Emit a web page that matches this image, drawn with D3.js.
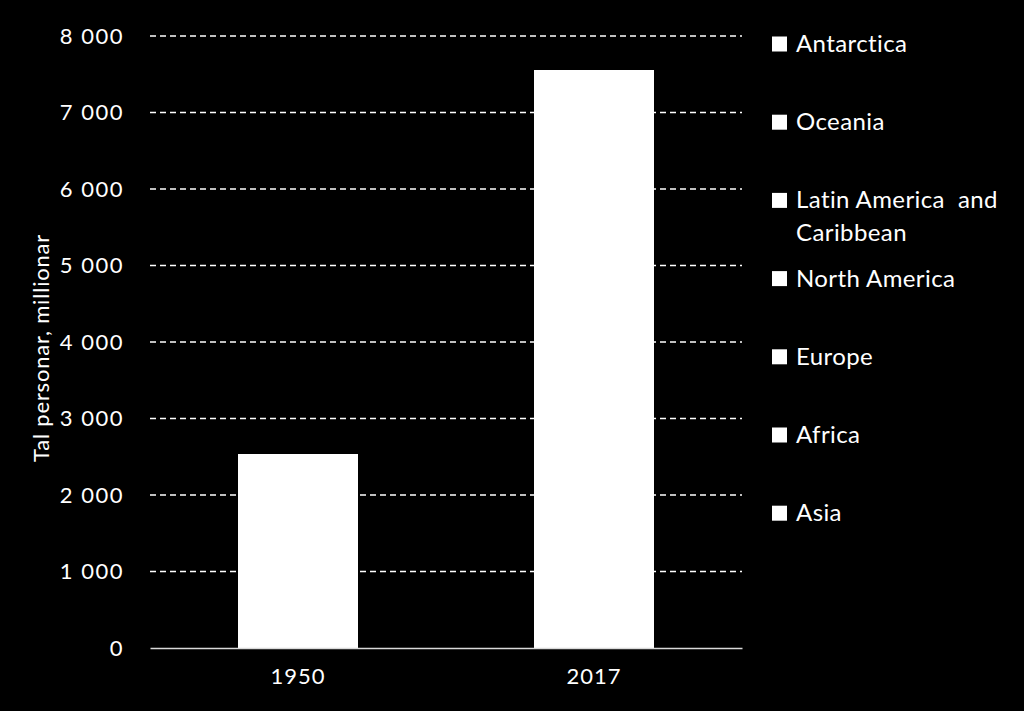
<!DOCTYPE html>
<html>
<head>
<meta charset="utf-8">
<script src="https://cdn.jsdelivr.net/npm/d3@7"></script>
<style>
  html, body { margin: 0; padding: 0; background: #000; }
  svg { display: block; }
  text { font-family: Lato, "Open Sans", sans-serif; fill: #fff; white-space: pre; }
</style>
</head>
<body>
<svg id="chart" width="1024" height="711"></svg>
<script>
const years = ["1950", "2017"];
const regions = ["Asia", "Africa", "Europe", "North America", "Latin America  and Caribbean", "Oceania", "Antarctica"];
const asia = [1404, 4504];
const africa = [228, 1256];
const europe = [549, 742];
const northAmerica = [172, 361];
const latinAmerica = [169, 646];
const oceania = [13, 41];
const antarctica = [0, 0];
const yTicks = [0, 1000, 2000, 3000, 4000, 5000, 6000, 7000, 8000];

(function () {
const seriesValues = [asia, africa, europe, northAmerica, latinAmerica, oceania, antarctica];
const table = years.map((yr, i) => {
  const row = { year: yr };
  regions.forEach((r, k) => row[r] = seriesValues[k][i]);
  return row;
});

const svg = d3.select("#chart");
const mLeft = 150, mRight = 742, mTop = 36, mBottom = 648;

const x = d3.scaleBand().domain(years).range([mLeft, mRight]).paddingInner(0.6).paddingOuter(0.3);
const y = d3.scaleLinear().domain([0, 8000]).range([mBottom, mTop]);

const fmt = d => d3.format(",")(d).replace(/,/g, " ");

// gridlines
svg.append("g").selectAll("line").data(yTicks.filter(d => d > 0)).join("line")
  .attr("x1", mLeft).attr("x2", mRight)
  .attr("y1", d => y(d)).attr("y2", d => y(d))
  .attr("stroke", "#fff").attr("stroke-width", 1.3)
  .attr("stroke-dasharray", "6,4");

// y axis
const yAxis = svg.append("g").attr("transform", `translate(${mLeft},0)`)
  .call(d3.axisLeft(y).tickValues(yTicks).tickFormat(fmt).tickSize(0).tickPadding(26));
yAxis.select(".domain").remove();
yAxis.selectAll("text").style("font-size", "22px").style("letter-spacing", "1.5px").attr("fill", "#fff");

// bars
const stack = d3.stack().keys(regions);
const layers = stack(table);
svg.append("g").selectAll("g").data(layers).join("g")
  .attr("fill", "#fff").attr("stroke", "#fff").attr("stroke-width", 1)
  .selectAll("rect").data(d => d).join("rect")
  .attr("shape-rendering", "crispEdges")
  .attr("x", d => x(d.data.year))
  .attr("width", x.bandwidth())
  .attr("y", d => y(d[1]))
  .attr("height", d => y(d[0]) - y(d[1]));

// x axis
const xAxis = svg.append("g").attr("transform", `translate(0,${mBottom})`)
  .call(d3.axisBottom(x).tickSize(0).tickPadding(20));
xAxis.select(".domain").attr("stroke", "#d9d9d9").attr("stroke-width", 1.5);
xAxis.selectAll("text").style("font-size", "22px").style("letter-spacing", "1px").attr("fill", "#fff");

// y title
svg.append("text")
  .attr("transform", `translate(49,${(mTop + mBottom) / 2 + 6}) rotate(-90)`)
  .attr("text-anchor", "middle")
  .style("font-size", "22px")
  .style("letter-spacing", "0.8px")
  .text("Tal personar, millionar");

// legend
const legendItems = regions.slice().reverse();
const lg = svg.append("g");
legendItems.forEach((name, i) => {
  const cy = 44 + i * 78.2;
  lg.append("rect").attr("x", 772).attr("y", cy - 7.5).attr("width", 15).attr("height", 15).attr("fill", "#fff");
  const t = lg.append("text").attr("x", 796).attr("y", cy + 8).style("font-size", "24px").style("letter-spacing", "0.4px");
  if (name.startsWith("Latin")) {
    t.append("tspan").attr("x", 796).attr("dy", 0).text("Latin America  and");
    t.append("tspan").attr("x", 796).attr("dy", 33).text("Caribbean");
  } else {
    t.text(name);
  }
});
})();
</script>
</body>
</html>
